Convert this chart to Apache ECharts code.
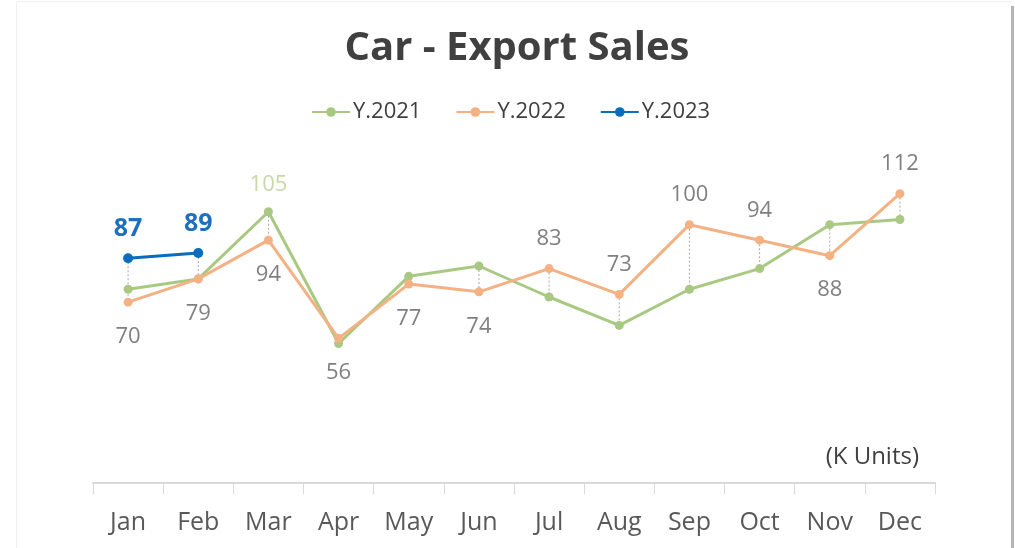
<!DOCTYPE html>
<html>
<head>
<meta charset="utf-8">
<title>Car - Export Sales</title>
<script src="https://cdn.jsdelivr.net/npm/echarts@6/dist/echarts.min.js"></script>
<style>
  html, body { margin: 0; padding: 0; background: #ffffff; }
  #chart { width: 1015px; height: 548px; }
</style>
</head>
<body>
<div id="chart"></div>
<script>
// Monthly car export sales, thousands of units
const months = ['Jan', 'Feb', 'Mar', 'Apr', 'May', 'Jun', 'Jul', 'Aug', 'Sep', 'Oct', 'Nov', 'Dec'];
const sales2021 = [75, 79, 105, 54, 80, 84, 72, 61, 75, 83, 100, 102];
const sales2022 = [70, 79, 94, 56, 77, 74, 83, 73, 100, 94, 88, 112];
const sales2023 = [87, 89, null, null, null, null, null, null, null, null, null, null];

// Which 2022 labels sit under their point, and which 2021 points get a label
const below2022 = new Set(['Jan', 'Feb', 'Mar', 'Apr', 'May', 'Jun', 'Nov']);
const labelled2021 = new Set(['Mar']);

const FONT = 'Open Sans';
const C2021 = '#a9c983';
const C2022 = '#f4b183';
const C2023 = '#0a6cbd';

// high-low connectors: span of all series at each month
const spans = months.map((m, i) => {
  const vals = [sales2021[i], sales2022[i], sales2023[i]].filter(v => v != null);
  return [i, Math.min(...vals), Math.max(...vals)];
});

const chart = echarts.init(document.getElementById('chart'), null, { renderer: 'canvas' });

chart.setOption({
  backgroundColor: '#ffffff',
  animation: false,
  textStyle: { fontFamily: FONT },
  title: {
    text: 'Car - Export Sales',
    left: 512,
    textAlign: 'center',
    top: 24,
    textStyle: { fontFamily: FONT, fontSize: 40, fontWeight: 'bold', color: '#404040' }
  },
  legend: {
    data: ['Y.2021', 'Y.2022', 'Y.2023'],
    left: 306,
    top: 96,
    itemWidth: 38,
    itemHeight: 12,
    itemGap: 34,
    textStyle: { fontFamily: FONT, fontSize: 22, color: '#404040', padding: [0, 0, 0, -2] }
  },
  grid: { left: 93, right: 80, top: 173, bottom: 65 },
  xAxis: {
    type: 'category',
    data: months,
    boundaryGap: true,
    axisLine: { lineStyle: { color: '#d9d9d9', width: 2 } },
    axisTick: { show: true, length: 11, lineStyle: { color: '#d9d9d9', width: 1 } },
    axisLabel: { fontFamily: FONT, fontSize: 25, color: '#595959', margin: 27 }
  },
  yAxis: {
    type: 'value',
    min: 0,
    max: 120,
    show: false
  },
  graphic: [
    { type: 'line', shape: { x1: 16.5, y1: 1, x2: 16.5, y2: 548 }, style: { stroke: '#efefef', lineWidth: 1 } },
    { type: 'line', shape: { x1: 16, y1: 1.5, x2: 1011, y2: 1.5 }, style: { stroke: '#f2f2f2', lineWidth: 1 } },
    { type: 'rect', shape: { x: 1011, y: 6, width: 3, height: 542 }, style: { fill: '#b4b4b4' } },
    {
      type: 'text',
      right: 96,
      top: 445,
      style: { text: '(K Units)', fontFamily: FONT, fontSize: 24, fill: '#404040' }
    }
  ],
  series: [
    {
      name: 'spans',
      type: 'custom',
      data: spans,
      z: 1,
      silent: true,
      renderItem: function (params, api) {
        const top = api.coord([api.value(0), api.value(2)]);
        const bot = api.coord([api.value(0), api.value(1)]);
        return {
          type: 'line',
          shape: { x1: top[0], y1: top[1], x2: bot[0], y2: bot[1] },
          style: { stroke: '#a8a8a8', lineWidth: 1, lineDash: [2, 2] }
        };
      }
    },
    {
      name: 'Y.2021',
      type: 'line',
      data: sales2021,
      z: 2,
      symbol: 'circle',
      symbolSize: 9,
      lineStyle: { color: C2021, width: 3 },
      itemStyle: { color: C2021 },
      label: {
        show: true,
        position: 'top',
        distance: 12,
        fontFamily: FONT,
        fontSize: 22,
        color: '#c7d9a6',
        formatter: p => labelled2021.has(p.name) ? String(p.value) : ''
      }
    },
    {
      name: 'Y.2022',
      type: 'line',
      data: sales2022.map((v, i) => ({
        value: v,
        label: below2022.has(months[i])
          ? { position: 'bottom', distance: 19 }
          : { position: 'top', distance: 14 }
      })),
      z: 3,
      symbol: 'circle',
      symbolSize: 9,
      lineStyle: { color: C2022, width: 3 },
      itemStyle: { color: C2022 },
      label: {
        show: true,
        fontFamily: FONT,
        fontSize: 22,
        color: '#808080'
      }
    },
    {
      name: 'Y.2023',
      type: 'line',
      data: sales2023,
      z: 4,
      symbol: 'circle',
      symbolSize: 10,
      lineStyle: { color: C2023, width: 3 },
      itemStyle: { color: C2023 },
      label: {
        show: true,
        position: 'top',
        distance: 12,
        fontFamily: FONT,
        fontSize: 25,
        fontWeight: 'bold',
        color: '#1f6fbd'
      }
    }
  ]
});
</script>
</body>
</html>
